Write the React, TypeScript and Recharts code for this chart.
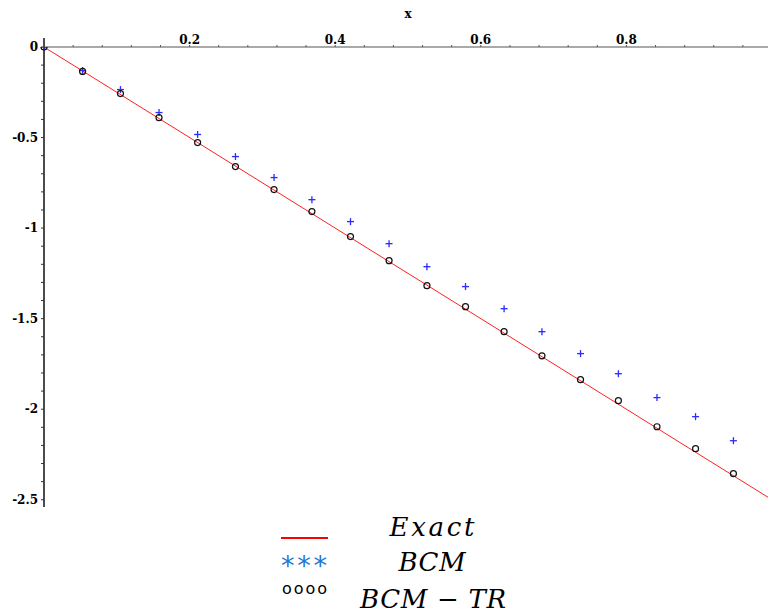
import { ComposedChart, Line, Scatter, XAxis, YAxis, ReferenceLine, Legend } from "recharts"

// sample points, x = i/19
let xs = [0, 0.053, 0.105, 0.158, 0.211, 0.263, 0.316, 0.368, 0.421, 0.474, 0.526, 0.579, 0.632, 0.684, 0.737, 0.789, 0.842, 0.895, 0.947]
let bcm = [0, -0.130, -0.235, -0.362, -0.483, -0.605, -0.721, -0.843, -0.964, -1.086, -1.213, -1.323, -1.445, -1.572, -1.693, -1.804, -1.936, -2.041, -2.174]
let bcmTr = [0, -0.135, -0.257, -0.390, -0.528, -0.660, -0.787, -0.909, -1.047, -1.180, -1.318, -1.434, -1.572, -1.705, -1.837, -1.953, -2.097, -2.218, -2.356]
let exactX = [0, 1]
let exactY = [0, -2.5]

let xTicks = [0, 0.04, 0.08, 0.12, 0.16, 0.2, 0.24, 0.28, 0.32, 0.36, 0.4, 0.44, 0.48, 0.52, 0.56, 0.6, 0.64, 0.68, 0.72, 0.76, 0.8, 0.84, 0.88, 0.92, 0.96, 1]
let xLabels = [0.2, 0.4, 0.6, 0.8, 1]
let yTicks = [0, -0.1, -0.2, -0.3, -0.4, -0.5, -0.6, -0.7, -0.8, -0.9, -1, -1.1, -1.2, -1.3, -1.4, -1.5, -1.6, -1.7, -1.8, -1.9, -2, -2.1, -2.2, -2.3, -2.4, -2.5]
let yLabels = [0, -0.5, -1, -1.5, -2, -2.5]
let legendNames = ["Exact", "BCM", "BCM \u2212 TR"]

let exactData = exactX.map((x, i) => ({ x, y: exactY[i] }))
let bcmData = xs.map((x, i) => ({ x, y: bcm[i] }))
let bcmTrData = xs.map((x, i) => ({ x, y: bcmTr[i] }))

let near = (list: number[], v: number) => list.some((t) => Math.abs(t - v) < 1e-6)

let tickFont = { fontSize: 12, fontWeight: "bold", fontFamily: "DejaVu Serif", fill: "#000" }

let PlusShape = ({ cx, cy }: any) => (
  <g stroke="#2b2bff" strokeWidth={1.3}>
    <line x1={cx - 3.5} x2={cx + 3.5} y1={cy} y2={cy} />
    <line x1={cx} x2={cx} y1={cy - 3.5} y2={cy + 3.5} />
  </g>
)

let CircleShape = ({ cx, cy }: any) => (
  <circle cx={cx} cy={cy} r={3} fill="none" stroke="#111" strokeWidth={1.2} />
)

let LegendBox = () => {
  let legendFont = { fontFamily: "DejaVu Serif", fontStyle: "italic", fontSize: 26, fill: "#000" }
  return (
    <svg width={320} height={110} style={{ overflow: "visible", display: "block" }}>
      <line x1={21} x2={68} y1={33} y2={33} stroke="#ff0000" strokeWidth={2} />
      <text x={172} y={31} textAnchor="middle" textLength={85} lengthAdjust="spacing" {...legendFont}>{legendNames[0]}</text>

      <text x={21} y={70} textLength={46} lengthAdjust="spacing" fontFamily="DejaVu Sans" fontSize={27} fill="#1e78d6">***</text>
      <text x={172} y={66} textAnchor="middle" textLength={67} lengthAdjust="spacing" {...legendFont}>{legendNames[1]}</text>

      <text x={22} y={89} textLength={45} lengthAdjust="spacing" fontFamily="DejaVu Sans" fontSize={16} fill="#000">oooo</text>
      <text x={173} y={103} textAnchor="middle" textLength={146} lengthAdjust="spacing" {...legendFont}>{legendNames[2]}</text>
    </svg>
  )
}

export default function App() {
  return (
    <div style={{ position: "absolute", left: 0, top: 0, width: 768, height: 609, overflow: "hidden", background: "#fff" }}>
      <ComposedChart width={782} height={609} margin={{ top: 0, right: 10, bottom: 102, left: 0 }}>
        <XAxis
          type="number"
          dataKey="x"
          orientation="top"
          domain={[0, 1]}
          ticks={xTicks}
          interval={0}
          height={47}
          tickFormatter={(v: number) => (near(xLabels, v) ? String(v) : "")}
          tick={tickFont}
          tickSize={2}
          tickMargin={1}
          axisLine={{ stroke: "#555", strokeWidth: 1.2 }}
          tickLine={{ stroke: "#555" }}
          label={{ value: "x", position: "insideTop", offset: 9, style: tickFont }}
        />
        <YAxis
          type="number"
          dataKey="y"
          domain={[-2.54, 0]}
          allowDataOverflow
          ticks={yTicks}
          interval={0}
          width={44}
          tickFormatter={(v: number) => (near(yLabels, v) ? String(v) : "")}
          tick={tickFont}
          tickSize={3}
          tickMargin={3}
          axisLine={{ stroke: "#111", strokeWidth: 1.5 }}
          tickLine={{ stroke: "#333" }}
        />
        <ReferenceLine
          segment={[{ x: 0, y: 0 }, { x: 0, y: 0.05 }]}
          ifOverflow="visible"
          stroke="#111"
          strokeWidth={1.5}
        />
        <Line
          data={exactData}
          dataKey="y"
          name={legendNames[0]}
          type="linear"
          stroke="#ff2020"
          strokeWidth={1}
          dot={false}
          isAnimationActive={false}
        />
        <Scatter data={bcmData} name={legendNames[1]} shape={PlusShape} isAnimationActive={false} />
        <Scatter data={bcmTrData} name={legendNames[2]} shape={CircleShape} isAnimationActive={false} />
        <Legend
          layout="horizontal"
          verticalAlign="middle"
          align="center"
          content={LegendBox}
          wrapperStyle={{ position: "absolute", left: 260, top: 505, width: 320, height: 110 }}
        />
      </ComposedChart>
    </div>
  )
}
